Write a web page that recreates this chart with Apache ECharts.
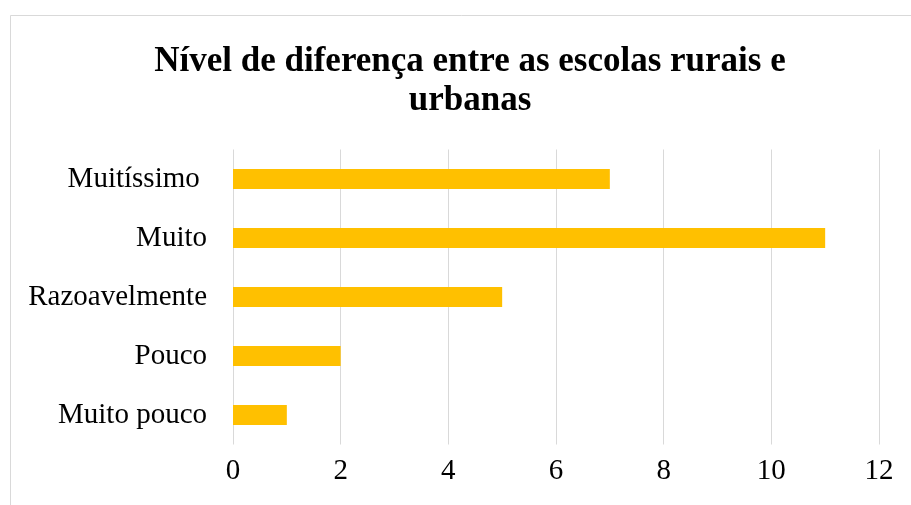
<!DOCTYPE html>
<html><head><meta charset="utf-8">
<script src="https://cdn.jsdelivr.net/npm/echarts@6/dist/echarts.min.js"></script>
<style>html,body{margin:0;padding:0;background:#fff;overflow:hidden}#c{width:911px;height:505px}</style>
</head><body><div id="c"></div>
<script>
const categories = ['Muito pouco', 'Pouco', 'Razoavelmente', 'Muito', 'Muitíssimo '];
const values = [1, 2, 5, 11, 7];
const titleText = 'Nível de diferença entre as escolas rurais e\nurbanas';
const chart = echarts.init(document.getElementById('c'));
chart.setOption({
  animation: false,
  backgroundColor: '#fff',
  graphic: [{type: 'rect', shape: {x: 10.5, y: 15.5, width: 1000, height: 600}, style: {fill: 'none', stroke: '#d9d9d9', lineWidth: 1}, silent: true}],
  title: {
    text: titleText, left: 465, top: 38, textAlign: 'center',
    textStyle: {fontFamily: 'Liberation Serif', fontWeight: 'bold', fontSize: 35, color: '#000', lineHeight: 38.5}
  },
  grid: {left: 233, right: 32, top: 149.5, bottom: 60.5, containLabel: false},
  xAxis: {
    type: 'value', min: 0, max: 12, interval: 2,
    axisLine: {show: false}, axisTick: {show: false},
    splitLine: {show: true, lineStyle: {color: '#d9d9d9', width: 1}},
    axisLabel: {fontFamily: 'Liberation Serif', fontSize: 29, color: '#000', margin: 12}
  },
  yAxis: {
    type: 'category', data: categories,
    axisLine: {show: false}, axisTick: {show: false},
    axisLabel: {fontFamily: 'Liberation Serif', fontSize: 29, color: '#000', margin: 26}
  },
  series: [{type: 'bar', data: values, barWidth: 20, itemStyle: {color: '#FFC000'}}]
});
</script></body></html>
